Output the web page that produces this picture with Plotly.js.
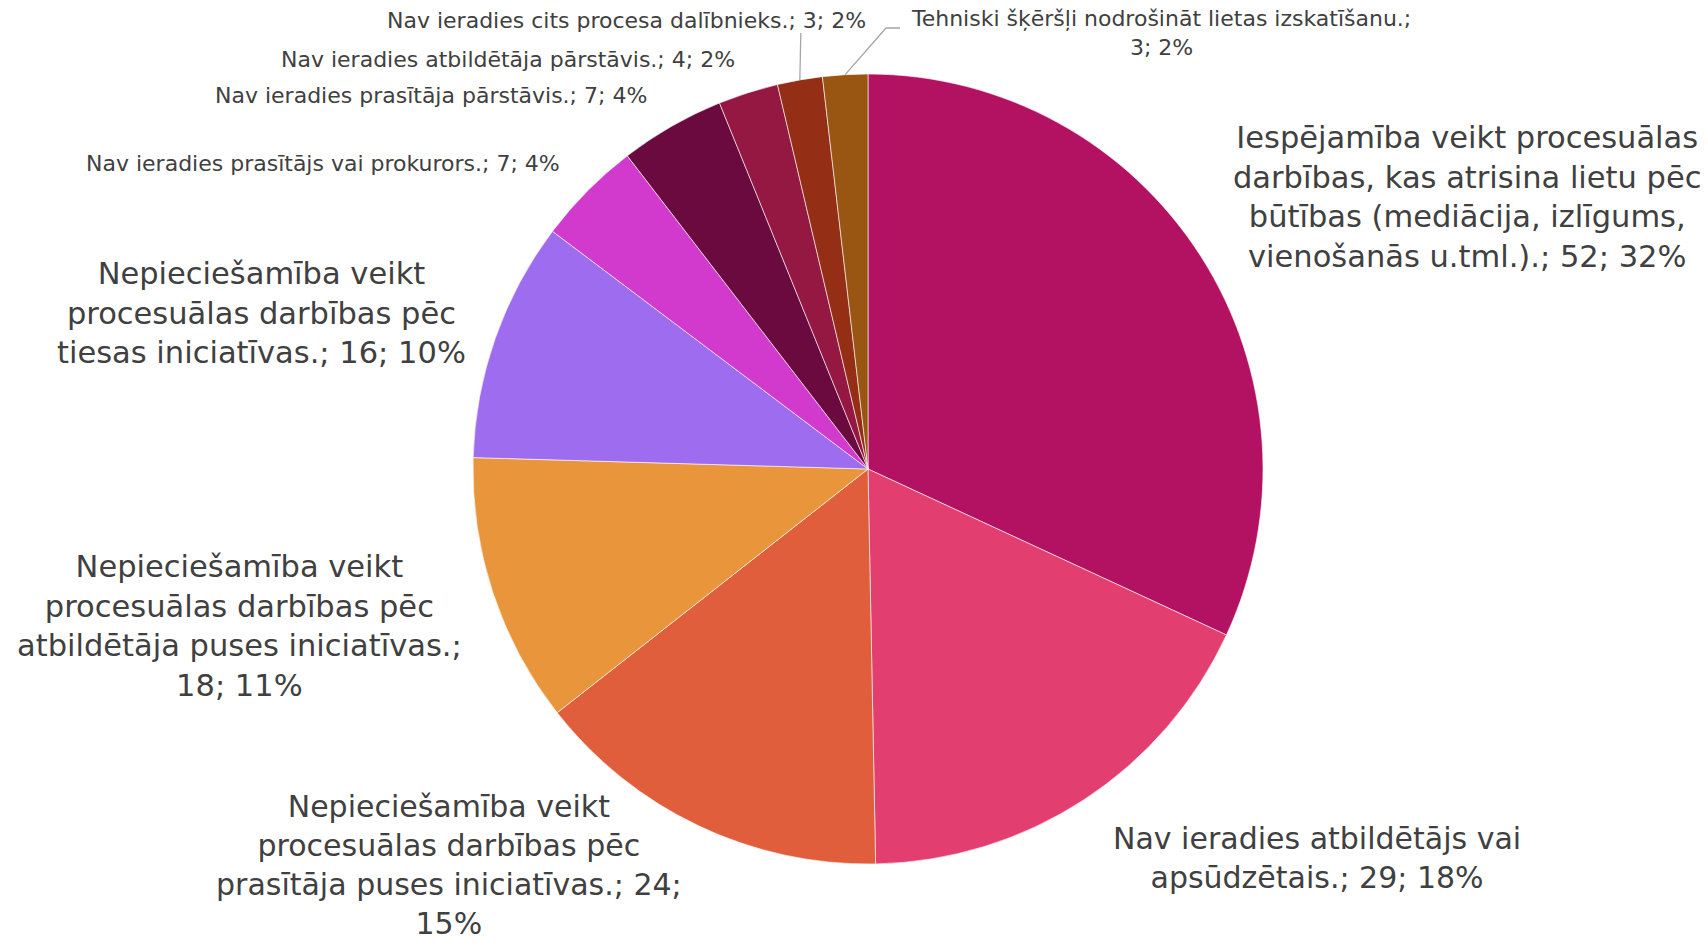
<!DOCTYPE html>
<html>
<head>
<meta charset="utf-8">
<script src="https://cdn.plot.ly/plotly-3.0.1.min.js"></script>
<style>html,body{margin:0;padding:0;background:#fff;}#chart{width:1708px;height:946px;}</style>
</head>
<body>
<div id="chart"></div>
<script>
// ---- data ----
const categories = [
  "Iespējamība veikt procesuālas darbības, kas atrisina lietu pēc būtības (mediācija, izlīgums, vienošanās u.tml.).",
  "Nav ieradies atbildētājs vai apsūdzētais.",
  "Nepieciešamība veikt procesuālas darbības pēc prasītāja puses iniciatīvas.",
  "Nepieciešamība veikt procesuālas darbības pēc atbildētāja puses iniciatīvas.",
  "Nepieciešamība veikt procesuālas darbības pēc tiesas iniciatīvas.",
  "Nav ieradies prasītājs vai prokurors.",
  "Nav ieradies prasītāja pārstāvis.",
  "Nav ieradies atbildētāja pārstāvis.",
  "Nav ieradies cits procesa dalībnieks.",
  "Tehniski šķēršļi nodrošināt lietas izskatīšanu."
];
const values = [52, 29, 24, 18, 16, 7, 7, 4, 3, 3];
const percentLabels = ["32%", "18%", "15%", "11%", "10%", "4%", "4%", "2%", "2%", "2%"];
// label text broken into lines as in the reference
const labelLines = [
  ["Iespējamība veikt procesuālas", "darbības, kas atrisina lietu pēc", "būtības (mediācija, izlīgums,", "vienošanās u.tml.).; 52; 32%"],
  ["Nav ieradies atbildētājs vai", "apsūdzētais.; 29; 18%"],
  ["Nepieciešamība veikt", "procesuālas darbības pēc", "prasītāja puses iniciatīvas.; 24;", "15%"],
  ["Nepieciešamība veikt", "procesuālas darbības pēc", "atbildētāja puses iniciatīvas.;", "18; 11%"],
  ["Nepieciešamība veikt", "procesuālas darbības pēc", "tiesas iniciatīvas.; 16; 10%"],
  ["Nav ieradies prasītājs vai prokurors.; 7; 4%"],
  ["Nav ieradies prasītāja pārstāvis.; 7; 4%"],
  ["Nav ieradies atbildētāja pārstāvis.; 4; 2%"],
  ["Nav ieradies cits procesa dalībnieks.; 3; 2%"],
  ["Tehniski šķēršļi nodrošināt lietas izskatīšanu.;", "3; 2%"]
];
const colors = ["#B31262", "#E23E6F", "#E15E3C", "#E8953C", "#9E6CEF",
                "#D23ACD", "#6A0A3E", "#951842", "#942F16", "#985612"];

// ---- layout geometry (pixels) ----
const W = 1708, H = 946;
const CX = 868, CY = 469, R = 395;
const labelPos = [
  [1467, 197], [1317, 858], [449, 865], [240, 626], [261, 313],
  [323, 163], [431, 95], [508, 59], [626, 20], [1161, 33]
];
const labelSize = [30.5, 30, 30, 30.5, 30.5, 22, 22, 22, 22, 22];
const textColor = "#404040";
const fontFam = "DejaVu Sans, sans-serif";

const px = x => x / W;
const py = y => 1 - y / H;

const annotations = labelLines.map((lines, i) => ({
  xref: "paper", yref: "paper",
  x: px(labelPos[i][0]), y: py(labelPos[i][1]),
  xanchor: "center", yanchor: "middle", align: "center",
  text: lines.join("<br>"), showarrow: false,
  font: {family: fontFam, size: labelSize[i], color: textColor}
}));

// leader lines for the two smallest slices, ending at slice mid-angle on the rim
const total = values.reduce((a, b) => a + b, 0);
function rimPoint(idx) {
  let cum = 0;
  for (let k = 0; k < idx; k++) cum += values[k];
  const ang = (cum + values[idx] / 2) / total * 2 * Math.PI; // clockwise from top
  return [CX + R * Math.sin(ang), CY - R * Math.cos(ang)];
}
const p8 = rimPoint(8), p9 = rimPoint(9);
const shapes = [
  {type: "path", xref: "paper", yref: "paper",
   path: `M ${px(p8[0]+1)} ${py(33)} L ${px(p8[0])} ${py(p8[1])}`,
   line: {color: "#A6A6A6", width: 1.3}},
  {type: "path", xref: "paper", yref: "paper",
   path: `M ${px(900)} ${py(28)} L ${px(886)} ${py(28)} L ${px(p9[0])} ${py(p9[1])}`,
   line: {color: "#A6A6A6", width: 1.3}}
];

const trace = {
  type: "pie",
  labels: categories,
  values: values,
  sort: false,
  direction: "clockwise",
  rotation: 0,
  textinfo: "none",
  hoverinfo: "label+value+percent",
  marker: {colors: colors, line: {color: "#FFFFFF", width: 0.6}},
  domain: {x: [px(CX - R), px(CX + R)], y: [py(CY + R), py(CY - R)]},
  showlegend: false
};

Plotly.newPlot("chart", [trace], {
  width: W, height: H,
  margin: {l: 0, r: 0, t: 0, b: 0},
  paper_bgcolor: "#FFFFFF",
  showlegend: false,
  annotations: annotations,
  shapes: shapes
}, {displayModeBar: false, staticPlot: true});
</script>
</body>
</html>
